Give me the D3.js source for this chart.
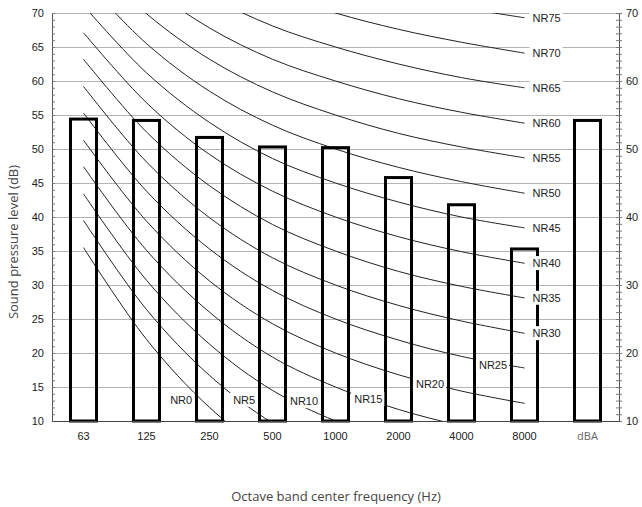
<!DOCTYPE html>
<html>
<head>
<meta charset="utf-8">
<script src="https://cdn.jsdelivr.net/npm/d3@7"></script>
<style>
body { margin: 0; background: #fff; }
text { font-family: "Liberation Sans", Arial, sans-serif; }
</style>
</head>
<body>
<div id="chart"></div>
<script>
// Octave bands and measured levels (dB)
var bands = ["63", "125", "250", "500", "1000", "2000", "4000", "8000", "dBA"];
var levels = [54.4, 54.2, 51.7, 50.3, 50.2, 45.8, 41.8, 35.3, 54.2];

// NR curves, one row per curve, 63 Hz .. 8000 Hz
var nrNames = ["NR0", "NR5", "NR10", "NR15", "NR20", "NR25", "NR30", "NR35",
               "NR40", "NR45", "NR50", "NR55", "NR60", "NR65", "NR70", "NR75"];
var nrLevels = [
    [35.5, 22.0, 12.0, 4.8, 0, -3.5, -6.1, -8.0],
    [39.5, 26.4, 16.7, 9.7, 5, 1.6, -1.0, -2.9],
    [43.4, 30.7, 21.3, 14.5, 10, 6.7, 4.2, 2.3],
    [47.4, 35.1, 26.0, 19.4, 15, 11.7, 9.3, 7.5],
    [51.3, 39.4, 30.6, 24.3, 20, 16.8, 14.4, 12.6],
    [55.3, 43.8, 35.3, 29.2, 25, 21.9, 19.5, 17.8],
    [59.2, 48.1, 39.9, 34.0, 30, 27.0, 24.7, 22.9],
    [63.2, 52.5, 44.6, 38.9, 35, 32.0, 29.8, 28.1],
    [67.1, 56.8, 49.2, 43.8, 40, 37.1, 34.9, 33.2],
    [71.1, 61.2, 53.9, 48.6, 45, 42.2, 40.0, 38.4],
    [75.0, 65.5, 58.5, 53.5, 50, 47.3, 45.2, 43.5],
    [79.0, 69.9, 63.2, 58.4, 55, 52.3, 50.3, 48.7],
    [82.9, 74.2, 67.8, 63.2, 60, 57.4, 55.4, 53.8],
    [86.9, 78.6, 72.5, 68.1, 65, 62.5, 60.5, 59.0],
    [90.8, 82.9, 77.1, 73.0, 70, 67.6, 65.7, 64.1],
    [94.8, 87.3, 81.8, 77.9, 75, 72.6, 70.8, 69.3]
];

// Labels placed along the low curves (band index, dB)
var innerLabels = ["NR0", "NR5", "NR10", "NR15", "NR20", "NR25"];
var innerLabelBand = [1.55, 2.55, 3.5, 4.52, 5.5, 6.5];
var innerLabelDb = [13.1, 13.1, 12.9, 13.2, 15.4, 18.2];

var leftTicks = [10, 15, 20, 25, 30, 35, 40, 45, 50, 55, 60, 65, 70];
var rightTicks = [10, 20, 30, 40, 50, 60, 70];
var gridTicks = [15, 20, 25, 30, 35, 40, 45, 50, 55, 60, 65, 70];

var svgWidth = 642, svgHeight = 507;
var plotLeft = 52, plotRight = 619, plotTop = 13, plotBottom = 421;

var svg = d3.select("#chart").append("svg")
    .attr("width", svgWidth)
    .attr("height", svgHeight);

var x = d3.scaleBand()
    .domain(bands)
    .range([plotLeft, plotRight])
    .paddingInner(0.587)
    .paddingOuter(0.2935);

var y = d3.scaleLinear()
    .domain([10, 70])
    .range([plotBottom, plotTop]);

function xc(b) { return x(b) + x.bandwidth() / 2; }

// fractional band position -> pixel
var xIdx = d3.scaleLinear().domain([0, 8]).range([xc(bands[0]), xc(bands[8])]);

// Gridlines
var grid = svg.append("g")
    .attr("transform", "translate(" + plotLeft + ",0)")
    .call(d3.axisLeft(y).tickValues(gridTicks).tickSize(-(plotRight - plotLeft - 2)).tickFormat(""));
grid.select(".domain").remove();
grid.selectAll("line").attr("stroke", "#b4b4b4");

// NR curves
svg.append("clipPath").attr("id", "plot")
    .append("rect")
    .attr("x", plotLeft).attr("y", plotTop)
    .attr("width", plotRight - plotLeft).attr("height", plotBottom - plotTop);

var line = d3.line()
    .x((d, i) => xc(bands[i]))
    .y(d => y(d))
    .curve(d3.curveCatmullRom.alpha(0.5));

svg.append("g")
    .attr("clip-path", "url(#plot)")
    .selectAll("path")
    .data(nrLevels)
    .join("path")
    .attr("d", line)
    .attr("fill", "none")
    .attr("stroke", "#222")
    .attr("stroke-width", 1);

// Bars
svg.append("g")
    .selectAll("rect")
    .data(levels)
    .join("rect")
    .attr("x", (d, i) => x(bands[i]))
    .attr("y", d => y(d))
    .attr("width", x.bandwidth())
    .attr("height", d => y(10) - y(d))
    .attr("fill", "none")
    .attr("stroke", "#000")
    .attr("stroke-width", 3);

// Left axis
var yl = svg.append("g")
    .attr("transform", "translate(" + plotLeft + ",0)")
    .call(d3.axisRight(y).tickValues(d3.range(10, 71)).tickSize(3).tickFormat(""));
yl.selectAll("line").attr("stroke", "#777");
yl.select(".domain").attr("stroke", "#555");

var ylab = svg.append("g")
    .attr("transform", "translate(" + plotLeft + ",0)")
    .call(d3.axisLeft(y).tickValues(leftTicks).tickSize(0).tickPadding(8));
ylab.select(".domain").remove();
ylab.selectAll("text").attr("font-size", 11).attr("fill", "#222")
    .style("font-family", "Liberation Sans, Arial, sans-serif");

// Right axis
var yr = svg.append("g")
    .attr("transform", "translate(" + plotRight + ",0)")
    .call(d3.axisRight(y).tickValues(d3.range(10, 71)).tickSize(3).tickFormat(""));
yr.select(".domain").attr("stroke", "#555");
yr.selectAll("line").attr("stroke", "#777");
var yr2 = svg.append("g")
    .attr("transform", "translate(" + plotRight + ",0)")
    .call(d3.axisLeft(y).tickValues(d3.range(10, 71)).tickSize(3).tickFormat(""));
yr2.select(".domain").remove();
yr2.selectAll("line").attr("stroke", "#777");

var yrlab = svg.append("g")
    .attr("transform", "translate(" + plotRight + ",0)")
    .call(d3.axisRight(y).tickValues(rightTicks).tickSize(0).tickPadding(7));
yrlab.select(".domain").remove();
yrlab.selectAll("text").attr("font-size", 11).attr("fill", "#222")
    .style("font-family", "Liberation Sans, Arial, sans-serif");

// Bottom axis
var xa = svg.append("g")
    .attr("transform", "translate(0," + plotBottom + ")")
    .call(d3.axisBottom(x).tickSize(0).tickPadding(11));
xa.select(".domain").attr("stroke", "#444");
xa.selectAll("text").attr("font-size", 11).attr("fill", "#222")
    .style("font-family", "Liberation Sans, Arial, sans-serif");
xa.selectAll("text").filter(d => d === "dBA")
    .attr("fill", "#666")
    .style("font-family", "Open Sans, sans-serif");

// NR labels with white boxes
var labels = svg.append("g");

function addLabel(name, px, py, anchor) {
    var g = labels.append("g");
    var t = g.append("text")
        .attr("x", px)
        .attr("y", py)
        .attr("dy", "0.35em")
        .attr("text-anchor", anchor)
        .attr("font-size", 11)
        .attr("fill", "#222")
        .text(name);
    var bb = t.node().getBBox();
    g.insert("rect", "text")
        .attr("x", bb.x - 3)
        .attr("y", bb.y - 1)
        .attr("width", bb.width + 5)
        .attr("height", bb.height + 2)
        .attr("fill", "#fff");
}

innerLabels.forEach(function (n, i) {
    addLabel(n, xIdx(innerLabelBand[i]), y(innerLabelDb[i]), "middle");
});

nrNames.forEach(function (n, i) {
    if (innerLabels.indexOf(n) >= 0) return;
    var row = nrLevels[i];
    addLabel(n, xc(bands[7]) + 8, y(row[row.length - 1]), "start");
});

// Axis titles
svg.append("text")
    .attr("x", 336)
    .attr("y", 501)
    .attr("text-anchor", "middle")
    .attr("font-size", 13)
    .attr("fill", "#444")
    .style("font-family", "Open Sans, sans-serif")
    .text("Octave band center frequency (Hz)");

svg.append("text")
    .attr("transform", "translate(18,242) rotate(-90)")
    .attr("text-anchor", "middle")
    .attr("font-size", 13)
    .attr("fill", "#444")
    .style("font-family", "Open Sans, sans-serif")
    .text("Sound pressure level (dB)");
</script>
</body>
</html>
